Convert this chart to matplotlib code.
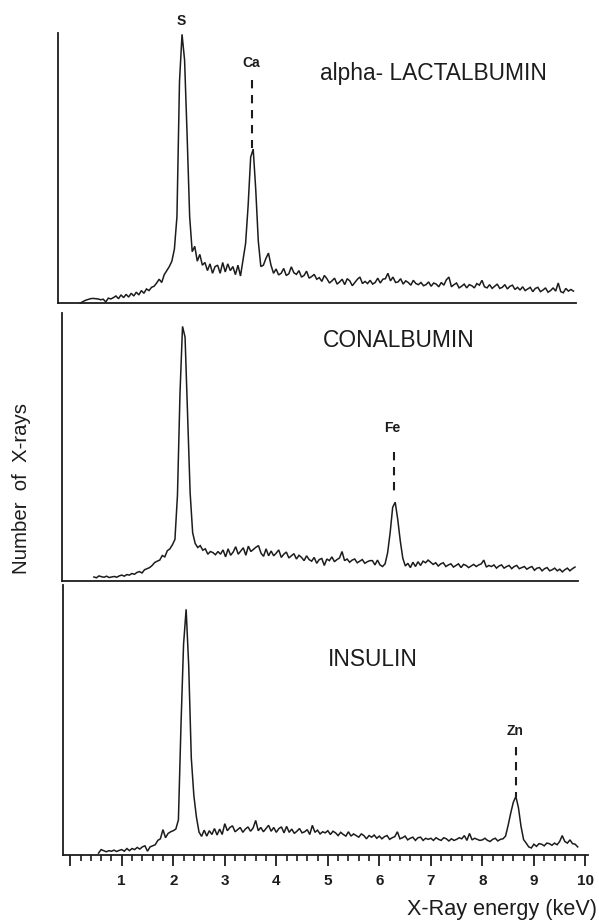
import numpy as np
import matplotlib
matplotlib.use('Agg')
import matplotlib.pyplot as plt
from matplotlib.ticker import MultipleLocator, FixedLocator, FixedFormatter

plt.rcParams['font.family'] = ['Liberation Sans', 'DejaVu Sans']

# ---------------- data (counts in % of panel height, energies in keV) ----------------
step = 0.05
lact_start = 0.30
lact_counts = [
    0.0, 0.5, 1.0, 1.3, 1.6, 1.7, 1.6, 1.5, 1.2, 1.4, 0.4, 1.8, 1.5, 2.0,
    2.6, 1.6, 3.0, 2.0, 3.2, 2.2, 3.6, 2.6, 4.0, 3.0, 4.6, 3.6, 5.2, 4.6, 5.8, 6.2, 7.4, 8.8, 7.6, 10.5,
    12.0, 13.5, 15.5, 20.0, 32.0, 82.0, 99.5, 90.0, 62.0, 32.0, 19.0, 21.0, 15.5, 18.0, 14.0, 15.0, 12.0, 14.5, 11.0, 13.5,
    14.0, 11.0, 15.0, 11.5, 14.5, 12.0, 13.5, 10.5, 14.0, 10.0, 16.0, 22.0, 36.0, 54.0, 57.0, 42.0, 23.0, 13.5, 14.0, 16.5,
    18.5, 14.0, 11.0, 12.6, 10.4, 11.0, 12.8, 10.2, 10.8, 13.4, 11.2, 10.6, 12.0, 9.6, 10.2, 11.8, 9.2, 9.8, 10.6, 8.8,
    9.4, 8.0, 10.2, 9.0, 7.4, 8.2, 9.2, 7.0, 7.8, 8.8, 6.8, 9.0, 8.2, 6.4, 7.6, 8.8, 9.6, 7.2, 8.0, 7.2,
    8.4, 7.0, 7.6, 9.2, 7.4, 8.8, 9.0, 11.0, 8.2, 9.6, 7.6, 7.8, 9.0, 7.0, 8.2, 7.6, 6.6, 8.4, 7.2, 6.8,
    7.6, 6.4, 6.8, 7.8, 6.2, 7.4, 7.0, 6.0, 7.6, 6.6, 8.6, 9.6, 6.0, 6.8, 7.4, 5.6, 6.2, 7.0, 5.6, 6.8,
    6.4, 5.6, 7.2, 6.6, 8.4, 6.0, 5.6, 6.8, 5.4, 6.2, 7.0, 5.4, 5.8, 6.8, 5.2, 6.2, 6.6, 5.0, 5.8, 4.8,
    6.0, 4.6, 5.2, 5.8, 4.2, 5.4, 5.8, 4.2, 4.8, 5.6, 4.0, 4.6, 5.6, 4.4, 7.4, 4.2, 3.8, 5.4, 4.4, 5.0,
    4.4,
]

conal_start = 0.50
conal_counts = [
    1.5, 1.2, 1.9, 1.6, 1.4, 1.8, 1.3, 1.5, 1.7, 1.4,
    1.9, 2.2, 1.8, 2.4, 2.2, 2.8, 2.5, 3.2, 3.5, 3.0, 4.2, 4.6, 5.0, 5.8, 6.9, 7.4, 7.8, 9.5, 9.0, 11.3,
    12.0, 13.5, 15.5, 32.0, 70.0, 95.0, 91.0, 62.0, 33.0, 18.0, 14.0, 12.5, 13.2, 11.5, 12.0, 10.0, 11.0, 10.6, 9.8, 11.0,
    10.0, 11.6, 9.0, 12.0, 9.6, 10.8, 12.8, 10.0, 11.2, 12.4, 9.6, 13.0, 11.0, 11.8, 12.6, 13.2, 10.4, 9.2, 12.0, 9.4,
    11.2, 9.4, 10.4, 11.6, 8.8, 10.0, 10.8, 8.6, 9.4, 10.2, 8.2, 9.6, 8.8, 7.6, 9.4, 8.0, 7.4, 8.8, 6.6, 8.0,
    8.4, 5.8, 8.2, 7.6, 9.0, 7.2, 8.0, 8.6, 11.0, 7.6, 8.2, 7.0, 7.8, 8.2, 6.8, 7.4, 8.0, 6.6, 7.2, 7.6,
    7.6, 6.0, 7.8, 6.0, 5.4, 6.4, 10.5, 18.0, 27.5, 29.4, 23.0, 15.0, 8.5, 5.6, 6.6, 5.0, 7.0, 5.4, 7.2, 5.8,
    7.4, 6.8, 7.8, 7.0, 6.2, 6.8, 5.6, 6.4, 6.8, 5.4, 6.0, 6.4, 5.2, 5.8, 6.4, 5.0, 6.2, 5.8, 5.0, 5.6,
    6.2, 5.4, 6.0, 6.4, 7.8, 5.2, 5.8, 5.4, 6.0, 4.8, 5.6, 6.0, 4.8, 5.4, 5.8, 4.6, 5.4, 5.8, 4.6, 5.0,
    5.4, 4.4, 5.0, 5.4, 4.0, 4.8, 5.0, 3.8, 4.6, 5.0, 3.8, 4.2, 4.8, 3.8, 4.4, 3.4, 4.2, 4.8, 3.8, 4.6,
    5.2,
]

insulin_start = 0.55
insulin_counts = [
    0.7, 2.0, 1.6, 1.2, 1.6, 1.4, 1.8, 1.3, 1.7,
    2.0, 1.4, 2.4, 1.6, 2.4, 2.0, 2.8, 2.2, 3.0, 3.4, 1.4, 3.0, 3.4, 3.8, 5.4, 6.0, 9.4, 6.4, 8.0, 8.6,
    9.0, 9.6, 13.0, 48.0, 78.0, 91.0, 70.0, 36.0, 22.0, 14.0, 8.5, 6.9, 9.2, 7.0, 9.0, 7.6, 9.8, 7.4, 9.6, 7.6,
    11.6, 9.0, 10.2, 10.8, 8.6, 9.4, 10.2, 8.4, 9.6, 10.4, 8.8, 10.0, 12.8, 9.0, 10.2, 8.6, 9.8, 11.0, 8.8, 10.2,
    8.4, 9.8, 10.4, 8.2, 10.6, 8.4, 9.6, 8.0, 8.8, 9.8, 8.2, 8.6, 9.4, 7.6, 11.0, 8.4, 9.2, 7.8, 8.6, 8.2,
    9.0, 7.6, 8.8, 8.2, 7.2, 8.4, 7.6, 7.0, 8.6, 7.0, 7.8, 7.2, 6.6, 7.8, 7.2, 6.0, 7.2, 6.6, 7.4, 6.2,
    7.0, 6.0, 6.8, 7.2, 5.8, 6.4, 6.8, 8.6, 6.0, 6.4, 7.0, 5.6, 6.2, 6.6, 5.4, 6.4, 6.6, 5.4, 6.2, 5.8,
    6.2, 5.4, 6.4, 5.8, 5.4, 6.4, 6.0, 5.2, 6.0, 5.4, 5.8, 6.4, 6.0, 7.2, 5.4, 8.0, 5.6, 6.2, 5.8, 5.4,
    5.6, 6.2, 5.4, 5.0, 5.8, 6.2, 5.2, 5.8, 6.0, 7.0, 11.0, 15.5, 19.5, 21.7, 17.5, 10.6, 5.7, 4.4, 3.0, 2.6,
    4.0, 3.2, 4.2, 4.0, 3.4, 4.4, 4.2, 3.6, 4.4, 3.8, 5.0, 7.2, 5.0, 4.4, 5.6, 4.2, 4.0, 3.0,
]

panel_names = ["alpha- LACTALBUMIN", "CONALBUMIN", "INSULIN"]
element_labels = ["Ca", "Fe", "Zn"]
element_energy = [3.68, 6.42, 8.65]
sulfur_energy = 2.30

tick_values = list(range(0, 11))
tick_labels = [""] + [str(v) for v in range(1, 11)]

# ---------------- figure ----------------
INK = '#1c1c1c'
XMIN, XMAX = -0.14, 10.05
W, H = 599, 922
fig = plt.figure(figsize=(W / 100, H / 100), dpi=100)


def add_axes(left_px, right_px, top_px, bottom_px):
    return fig.add_axes([left_px / W, 1 - bottom_px / H,
                         (right_px - left_px) / W, (bottom_px - top_px) / H])


ax_top = add_axes(58, 576, 33, 303)
ax_mid = add_axes(61.5, 577.5, 313, 581)
ax_bot = add_axes(63, 588, 585, 855)
axes = [ax_top, ax_mid, ax_bot]

series = [(lact_start, lact_counts), (conal_start, conal_counts), (insulin_start, insulin_counts)]

for ax, (start, counts) in zip(axes, series):
    e = start + step * np.arange(len(counts))
    ax.plot(e, counts, color=INK, lw=1.1, clip_on=False, solid_joinstyle='miter')
    ax.set_xlim(XMIN, XMAX)
    ax.set_ylim(0, 100)
    for s in ('top', 'right'):
        ax.spines[s].set_visible(False)
    for s in ('left', 'bottom'):
        ax.spines[s].set_color(INK)
        ax.spines[s].set_linewidth(1.3)
    ax.set_yticks([])
    ax.patch.set_alpha(0)

for ax in (ax_top, ax_mid):
    ax.set_xticks([])

ax_bot.xaxis.set_major_locator(FixedLocator(tick_values))
ax_bot.xaxis.set_major_formatter(FixedFormatter(tick_labels))
ax_bot.xaxis.set_minor_locator(MultipleLocator(0.2))
ax_bot.tick_params(axis='x', which='major', direction='out', length=8, width=1.3,
                   color=INK, pad=6, labelsize=11, labelcolor=INK)
ax_bot.tick_params(axis='x', which='minor', direction='out', length=4.5, width=1.2, color=INK)
for lab in ax_bot.get_xticklabels():
    lab.set_fontweight('bold')

# panel titles
ax_top.text(5.01, 85.1, panel_names[0], fontsize=16.4, color=INK, ha='left', va='center')
ax_mid.text(5.02, 89.7, panel_names[1], fontsize=16.4, color=INK, ha='left', va='center')
ax_bot.text(5.00, 72.3, panel_names[2], fontsize=16.4, color=INK, ha='left', va='center')

# sulfur label on top panel
ax_top.text(sulfur_energy - 0.02, 104.4, "S", fontsize=10, fontweight='bold', color=INK,
            ha='center', va='center', clip_on=False)

# element labels with dashed markers
label_y = [88.8, 57.1, 46.0]
dash_top = [82.5, 48.1, 40.1]
dash_bot = [57.5, 32.8, 21.6]
for ax, lab, en, ly, dt, db in zip(axes, element_labels, element_energy, label_y, dash_top, dash_bot):
    ax.text(en - 0.02, ly, lab, fontsize=10, fontweight='bold', color=INK, ha='center', va='center')
    ax.plot([en, en], [dt, db], color=INK, lw=1.5, ls=(0, (4, 3.2)))

fig.text(597 / W, 1 - 909 / H, "X-Ray energy (keV)", fontsize=15.6, color=INK, ha='right', va='center')
fig.text(22 / W, 1 - 489 / H, "Number  of  X-rays", fontsize=14.7, color=INK, rotation=90,
         ha='center', va='center')

fig.savefig('out.png', dpi=100, facecolor='white')
